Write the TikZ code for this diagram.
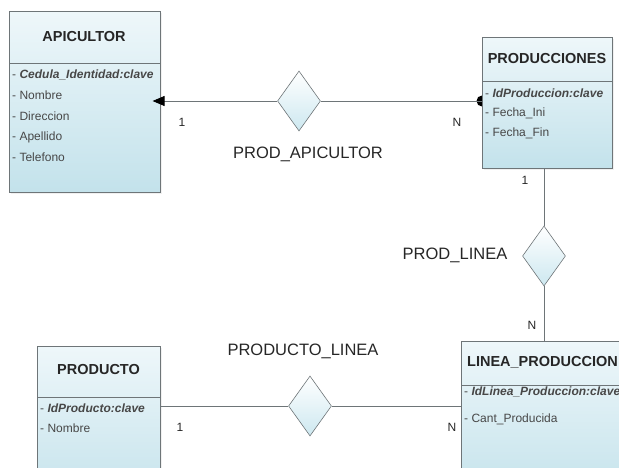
\documentclass[tikz,border=0pt]{standalone}
\usepackage{fontspec}
\setmainfont{Liberation Sans}
\usepackage{xcolor}
\usepackage{tikz}
\usetikzlibrary{arrows.meta, positioning, shapes.geometric, backgrounds, shadows}
\definecolor{erline}{HTML}{6E7578}
\definecolor{boxtop}{HTML}{EEF7FA}
\definecolor{boxbot}{HTML}{C3E2EB}
\definecolor{relbot}{HTML}{CDE8F0}
\tikzset{
  entbox/.style={draw=erline,semithick,top color=boxtop,bottom color=boxbot,anchor=north west,inner sep=0pt,
    drop shadow={opacity=0.12,shadow xshift=2pt,shadow yshift=-2pt}},
  entsep/.style={draw=erline,semithick},
  enttitle/.style={font=\fontsize{14.5}{16}\selectfont\bfseries,text=black!85,inner sep=0pt},
  entattr/.style={anchor=west,inner sep=0pt,font=\fontsize{12}{14}\selectfont,text=black!72},
  relnode/.style={diamond,draw=erline,semithick,top color=white,bottom color=relbot,minimum width=43pt,minimum height=60pt,inner sep=0pt},
  rellabel/.style={font=\fontsize{16.5}{19}\selectfont,text=black!85,inner sep=0pt},
  cardlabel/.style={font=\fontsize{12}{14}\selectfont,text=black!85,inner sep=0pt},
  conn/.style={draw=erline,line width=0.9pt},
}

\begin{document}
\begin{tikzpicture}[x=1pt,y=-1pt]
  \path[use as bounding box] (0,0) rectangle (619,468);
  \clip (0,0) rectangle (619,468);
  % entities
  \node[entbox,minimum width=151pt,minimum height=181pt] (eApic) at (9,11) {};
  \draw[entsep] ([yshift=-52pt]eApic.north west) -- ([yshift=-52pt]eApic.north east);
  \node[enttitle] (tApic) at (84,37) {APICULTOR};
  \node[entattr] (aApic1) at (12,75) {- \textbf{\textit{Cedula\_Identidad:clave}}};
  \node[entattr] (aApic2) at (12,95) {- Nombre};
  \node[entattr] (aApic3) at (12,116) {- Direccion};
  \node[entattr] (aApic4) at (12,137) {- Apellido};
  \node[entattr] (aApic5) at (12,157) {- Telefono};

  \node[entbox,minimum width=130pt,minimum height=131pt] (eProd) at (482,37) {};
  \draw[entsep] ([yshift=-44pt]eProd.north west) -- ([yshift=-44pt]eProd.north east);
  \node[enttitle] (tProd) at (547,59) {PRODUCCIONES};
  \node[entattr] (aProd1) at (485,93) {- \textbf{\textit{IdProduccion:clave}}};
  \node[entattr] (aProd2) at (485,113) {- Fecha\_Ini};
  \node[entattr] (aProd3) at (485,133) {- Fecha\_Fin};

  \node[entbox,minimum width=123pt,minimum height=160pt] (eProducto) at (37,346) {};
  \draw[entsep] ([yshift=-51pt]eProducto.north west) -- ([yshift=-51pt]eProducto.north east);
  \node[enttitle] (tProducto) at (98.5,370) {PRODUCTO};
  \node[entattr] (aProducto1) at (40,408) {- \textbf{\textit{IdProducto:clave}}};
  \node[entattr] (aProducto2) at (40,428) {- Nombre};

  \node[entbox,minimum width=200pt,minimum height=160pt] (eLinea) at (461,341) {};
  \draw[entsep] ([yshift=-44pt]eLinea.north west) -- ([yshift=-44pt]eLinea.north east);
  \node[enttitle] (tLinea) at (542.5,362) {LINEA\_PRODUCCION};
  \node[entattr] (aLinea1) at (464,392) {- \textbf{\textit{IdLinea\_Produccion:clave}}};
  \node[entattr] (aLinea2) at (464,419) {- Cant\_Producida};

  % relationships
  \node[relnode] (rPA) at (299,101) {};
  \node[relnode] (rPL) at (544,256) {};
  \node[relnode] (rPPL) at (310,406) {};
  \node[rellabel] (lPA) at (308,154) {PROD\_APICULTOR};
  \node[rellabel] (lPL) at (455,255) {PROD\_LINEA};
  \node[rellabel] (lPPL) at (303,351) {PRODUCTO\_LINEA};

  \begin{scope}[on background layer]
    \fill[black] (rPA.east -| eProd.west) circle (5.5pt);
  \end{scope}
  \draw[conn,-{Triangle[length=12pt,width=10pt,black]},shorten >=-8pt] (rPA.west) -- (rPA.west -| eApic.east);
  \draw[conn] (rPA.east) -- (rPA.east -| eProd.west);
  \draw[conn] (rPL.north) -- (rPL.north |- eProd.south);
  \draw[conn] (rPL.south) -- (rPL.south |- eLinea.north);
  \draw[conn] (rPPL.west) -- (rPPL.west -| eProducto.east);
  \draw[conn] (rPPL.east) -- (rPPL.east -| eLinea.west);

  % cardinalities
  \node[cardlabel] (c1) at (182,122) {1};
  \node[cardlabel] (c2) at (457,122) {N};
  \node[cardlabel] (c3) at (525,180) {1};
  \node[cardlabel] (c4) at (532,325) {N};
  \node[cardlabel] (c5) at (180,427) {1};
  \node[cardlabel] (c6) at (452,427) {N};
\end{tikzpicture}
\end{document}
